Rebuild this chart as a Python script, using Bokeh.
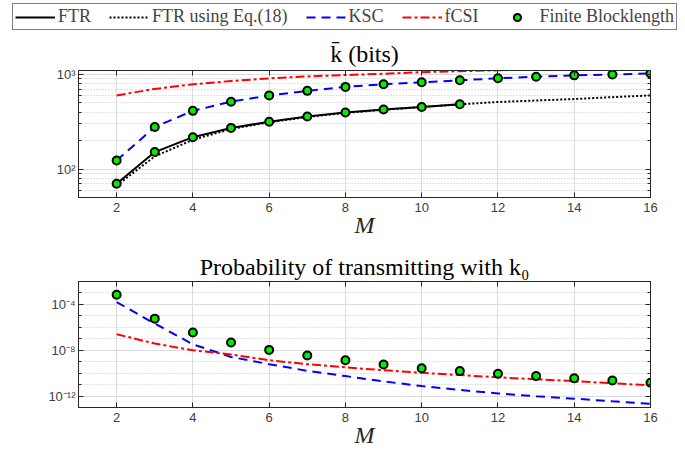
from bokeh.plotting import figure
from bokeh.layouts import column
from bokeh.models import (FixedTicker, LinearAxis, LogAxis, Legend, LegendItem,
                          CustomJSTickFormatter, Range1d)
from bokeh.embed import file_html
from bokeh.resources import INLINE

# ---------------- data ----------------
M_all = [2, 3, 4, 5, 6, 7, 8, 9, 10, 11, 12, 13, 14, 15, 16]
M_ftr = [2, 3, 4, 5, 6, 7, 8, 9, 10, 11]

# top panel: average k (bits)
k_ftr = [70, 151, 217, 272, 316, 359, 395, 425, 453, 483]
k_ftr_eq18 = [67, 136, 204, 265, 312, 355, 392, 423, 452, 482, 511, 530, 549, 575, 600]
k_ksc = [123, 278, 412, 515, 600, 670, 738, 787, 826, 866, 909, 946, 977, 1000, 1024]
k_fcsi = [600, 703, 787, 852, 909, 953, 985, 1015, 1057, 1082, 1105, 1130, 1155, 1180, 1200]

# bottom panel: probability of transmitting with k0
p_fb = [6.9e-4, 5.7e-6, 3.5e-7, 4.7e-8, 1.07e-8, 3.5e-9, 1.35e-9, 5.6e-10, 2.7e-10,
        1.5e-10, 8.7e-11, 5.5e-11, 3.5e-11, 2.3e-11, 1.45e-11]
p_ksc = [1.6e-4, 2.1e-6, 3.3e-8, 2.6e-9, 6e-10, 1.6e-10, 5.5e-11, 1.9e-11, 7.4e-12,
         3.4e-12, 1.7e-12, 9.5e-13, 5.9e-13, 3.5e-13, 2.1e-13]
p_fcsi = [2.5e-7, 3.8e-8, 1e-8, 4.2e-9, 1.35e-9, 6e-10, 3.2e-10, 1.8e-10, 1.07e-10,
          6.8e-11, 4.3e-11, 2.9e-11, 2e-11, 1.3e-11, 8.5e-12]

x_ticks = [2, 4, 6, 8, 10, 12, 14, 16]
top_major = [100, 1000]
top_minor = [50, 60, 70, 80, 90, 200, 300, 400, 500, 600, 700, 800, 900]
bot_major = [1e-12, 1e-8, 1e-4]
bot_minor = [1e-13, 1e-11, 1e-10, 1e-9, 1e-7, 1e-6, 1e-5, 1e-3, 1e-2]

legend_labels = ["FTR", "FTR using Eq.(18)", "KSC", "fCSI", "Finite Blocklength"]

# ---------------- styles ----------------
W = 685
FL = 78   # frame left border
FR = 35   # frame right border
SERIF = "Liberation Serif"
SANS = "Liberation Sans"
AX = "#262626"
GREEN = "#00ee00"
BLUE = "#0000ff"
RED = "#ff0000"

sup_js = """
const sup = {'-':'\u207b','0':'\u2070','1':'\u00b9','2':'\u00b2','3':'\u00b3','4':'\u2074',
             '5':'\u2075','6':'\u2076','7':'\u2077','8':'\u2078','9':'\u2079'};
const e = Math.round(Math.log10(tick));
return '10' + String(e).split('').map(c => sup[c]).join('');
"""
blank_js = "return '';"


def style_axes(p, yticker, title_standoff):
    xt = FixedTicker(ticks=x_ticks)
    p.xaxis[0].ticker = xt
    p.yaxis[0].ticker = yticker
    p.yaxis[0].formatter = CustomJSTickFormatter(code=sup_js)
    # box axes (ticks only)
    p.add_layout(LinearAxis(ticker=xt, formatter=CustomJSTickFormatter(code=blank_js),
                            major_label_standoff=0), "above")
    p.add_layout(LogAxis(ticker=yticker, formatter=CustomJSTickFormatter(code=blank_js),
                         major_label_standoff=0), "right")
    for ax in p.axis:
        ax.axis_line_color = AX
        ax.major_tick_line_color = AX
        ax.minor_tick_line_color = AX
        ax.major_tick_in = 5
        ax.major_tick_out = 0
        ax.minor_tick_in = 3
        ax.minor_tick_out = 0
        ax.major_label_text_font = SANS
        ax.major_label_text_color = "#404040"
        ax.major_label_text_font_size = "13px"
    p.xaxis[0].major_label_standoff = 8
    p.yaxis[0].major_label_standoff = 3
    for ax in p.xaxis:
        ax.minor_tick_line_color = None
    p.above[0].minor_tick_line_color = None
    p.below[0].axis_label = "M"
    p.below[0].axis_label_text_font = SERIF
    p.below[0].axis_label_text_font_style = "italic"
    p.below[0].axis_label_text_font_size = "24px"
    p.below[0].axis_label_text_color = "#262626"
    p.below[0].axis_label_standoff = -3
    p.outline_line_color = AX
    p.xgrid.ticker = xt
    p.xgrid.grid_line_color = "#dcdcdc"
    p.ygrid.grid_line_color = "#dcdcdc"
    p.ygrid.minor_grid_line_color = "#c4c4c4"
    p.ygrid.minor_grid_line_dash = "1 2"
    p.title.text_font = SERIF
    p.title.text_font_size = "24px"
    p.title.text_font_style = "normal"
    p.title.align = "center"
    p.title.text_color = "#000000"
    p.title.standoff = title_standoff


LEG_H = 34
TOP_H = 206
BOT_H = 215

# ---------------- top figure ----------------
top = figure(width=W, height=TOP_H, y_axis_type="log", output_backend="svg",
             toolbar_location=None, x_range=Range1d(1, 16), y_range=Range1d(50, 1100),
             min_border_left=FL, min_border_right=FR, min_border_top=34,
             min_border_bottom=43, title="k\u0304 (bits)")
style_axes(top, FixedTicker(ticks=top_major, minor_ticks=top_minor), 8)

top.line(M_ftr, k_ftr, line_color="black", line_width=2)
top.line(M_all, k_ftr_eq18, line_color="black", line_width=2, line_dash="2 2")
top.line(M_all, k_ksc, line_color=BLUE, line_width=2, line_dash="9 6")
top.line(M_all, k_fcsi, line_color=RED, line_width=2, line_dash="9 3 3 3")
top.scatter(M_ftr, k_ftr, size=8, fill_color=GREEN, line_color="black", line_width=2)
top.scatter(M_all, k_ksc, size=8, fill_color=GREEN, line_color="black", line_width=2)

# ---------------- bottom figure ----------------
bot = figure(width=W, height=BOT_H, y_axis_type="log", output_backend="svg",
             toolbar_location=None, x_range=Range1d(1, 16), y_range=Range1d(1e-13, 1e-2),
             min_border_left=FL, min_border_right=FR, min_border_top=41,
             min_border_bottom=48, title="Probability of transmitting with k\u2080")
style_axes(bot, FixedTicker(ticks=bot_major, minor_ticks=bot_minor), 3)

bot.line(M_all, p_ksc, line_color=BLUE, line_width=2, line_dash="9 6")
bot.line(M_all, p_fcsi, line_color=RED, line_width=2, line_dash="9 3 3 3")
bot.scatter(M_all, p_fb, size=8, fill_color=GREEN, line_color="black", line_width=2)

# ---------------- legend figure ----------------
leg = figure(width=W, height=LEG_H, output_backend="svg", toolbar_location=None,
             x_range=Range1d(0, 1), y_range=Range1d(0, 1),
             x_axis_location=None, y_axis_location=None,
             min_border=0, min_border_left=0, min_border_right=0,
             min_border_top=0, min_border_bottom=0)
leg.grid.visible = False
leg.outline_line_color = None
off = [-5, -4]
g1 = leg.line(off, off, line_color="black", line_width=2)
g2 = leg.line(off, off, line_color="black", line_width=2, line_dash="2 2")
g3 = leg.line(off, off, line_color=BLUE, line_width=2, line_dash="9 6")
g4 = leg.line(off, off, line_color=RED, line_width=2, line_dash="9 3 3 3")
g5 = leg.scatter(off, off, size=5, fill_color=GREEN, line_color="black", line_width=2)
items = [LegendItem(label=lab, renderers=[r]) for lab, r in
         zip(legend_labels, [g1, g2, g3, g4, g5])]
legend = Legend(items=items, orientation="horizontal", location=(12, 4),
                label_text_font=SERIF, label_text_font_size="18px",
                label_standoff=3, glyph_width=40, glyph_height=18, spacing=18,
                padding=2, margin=0, border_line_color="black", border_line_width=1,
                label_height=18)
leg.add_layout(legend)

layout = column(leg, column(top, bot, spacing=0), spacing=0)

with open("out.html", "w") as f:
    f.write(file_html(layout, INLINE))
